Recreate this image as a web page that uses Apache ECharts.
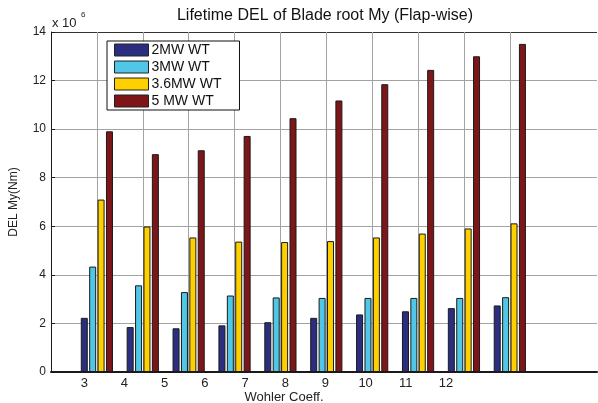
<!DOCTYPE html>
<html>
<head>
<meta charset="utf-8">
<script src="https://cdn.jsdelivr.net/npm/echarts@6/dist/echarts.min.js"></script>
<style>
  html, body { margin: 0; padding: 0; background: #fff; }
  #chart { width: 598px; height: 403px; }
</style>
</head>
<body>
<div id="chart"></div>
<script>
// Wohler coefficients (x tick labels)
var categories = ['3', '4', '5', '6', '7', '8', '9', '10', '11', '12'];
// DEL values, x 10^6 Nm
var wt2 = [2.23, 1.85, 1.80, 1.92, 2.05, 2.23, 2.37, 2.50, 2.63, 2.74];
var wt3 = [4.34, 3.57, 3.29, 3.15, 3.07, 3.05, 3.05, 3.05, 3.05, 3.08];
var wt36 = [7.10, 5.99, 5.54, 5.37, 5.35, 5.39, 5.54, 5.70, 5.91, 6.12];
var wt5 = [9.91, 8.97, 9.13, 9.72, 10.45, 11.18, 11.85, 12.44, 13.0, 13.51];
var seriesNames = ['2MW WT', '3MW WT', '3.6MW WT', '5 MW WT'];
var colors = ['#2b2e80', '#50c7e6', '#ffd000', '#7e1519'];

var font = 'Liberation Sans, Arial, sans-serif';

// bars sit on positions 1..n of the bar axis
var toPoints = function(values) {
	return values.map(function(v, i) { return [i + 1, v]; });
};

var grey = '#a3a3a3';
var xGridColors = ['transparent'];
for (var i = 0; i < categories.length; i++) xGridColors.push(grey);
xGridColors.push('transparent', 'transparent', 'transparent');

var makeBar = function(name, values, color) {
	return {
		name: name,
		type: 'bar',
		xAxisIndex: 0,
		yAxisIndex: 0,
		barWidth: 7,
		barGap: '20%',
		data: toPoints(values),
		itemStyle: { color: color, borderColor: '#1a1a1a', borderWidth: 1 }
	};
};

var option = {
	animation: false,
	color: colors,
	textStyle: { fontFamily: font },
	grid: [
		{ left: 51, right: 1, top: 32, bottom: 31 },
		{ left: 84.3, right: 152, top: 32, bottom: 31 }
	],
	legend: {
		orient: 'vertical',
		left: 107,
		top: 41,
		data: seriesNames,
		icon: 'rect',
		itemWidth: 34,
		itemHeight: 12,
		itemGap: 3,
		padding: [2, 18, 2, 7],
		borderColor: '#111',
		borderWidth: 1,
		backgroundColor: '#fff',
		textStyle: { fontSize: 14, color: '#111', padding: [0, 0, 0, -2] },
		itemStyle: { borderColor: '#222', borderWidth: 1 }
	},
	xAxis: [{
		gridIndex: 0,
		type: 'value',
		min: 0,
		max: 11.9,
		interval: 1,
		axisLabel: { show: false },
		axisTick: { show: false },
		axisLine: { lineStyle: { color: '#1a1a1a', width: 2 } },
		splitLine: { show: true, lineStyle: { color: xGridColors, width: 1 } }
	}, {
		gridIndex: 1,
		type: 'value',
		min: 3,
		max: 12,
		interval: 1,
		axisLine: { show: false },
		axisTick: { show: false },
		splitLine: { show: false },
		axisLabel: { fontSize: 13, color: '#222', margin: 5, showMinLabel: true, showMaxLabel: true }
	}],
	yAxis: [{
		gridIndex: 0,
		type: 'value',
		min: 0,
		max: 14,
		interval: 2,
		name: 'DEL My(Nm)',
		nameLocation: 'middle',
		nameGap: 31,
		nameTextStyle: { fontSize: 12, color: '#222' },
		axisLine: { show: true, lineStyle: { color: '#1a1a1a', width: 1 } },
		axisTick: { show: true, inside: true, length: 4, lineStyle: { color: '#1a1a1a' } },
		axisLabel: { fontSize: 12, color: '#222', margin: 5 },
		splitLine: { show: true, lineStyle: { color: ['transparent', grey, grey, grey, grey, grey, grey, '#333'], width: 1 } }
	}, {
		gridIndex: 1,
		type: 'value',
		show: false,
		min: 0,
		max: 14
	}],
	graphic: [{
		type: 'text',
		x: 325,
		y: 16,
		style: { text: 'Lifetime DEL of Blade root My (Flap-wise)', font: '16px ' + font, fill: '#111', align: 'center', verticalAlign: 'middle' }
	}, {
		type: 'text',
		x: 52,
		y: 23,
		style: { text: 'x 10', font: '13px ' + font, fill: '#222', align: 'left', verticalAlign: 'middle' }
	}, {
		type: 'text',
		x: 81,
		y: 15,
		style: { text: '6', font: '8px ' + font, fill: '#222', align: 'left', verticalAlign: 'middle' }
	}, {
		type: 'text',
		x: 284,
		y: 397,
		style: { text: 'Wohler Coeff.', font: '13px ' + font, fill: '#222', align: 'center', verticalAlign: 'middle' }
	}],
	series: [
		makeBar(seriesNames[0], wt2, colors[0]),
		makeBar(seriesNames[1], wt3, colors[1]),
		makeBar(seriesNames[2], wt36, colors[2]),
		makeBar(seriesNames[3], wt5, colors[3])
	]
};

var chart = echarts.init(document.getElementById('chart'));
chart.setOption(option);
</script>
</body>
</html>
